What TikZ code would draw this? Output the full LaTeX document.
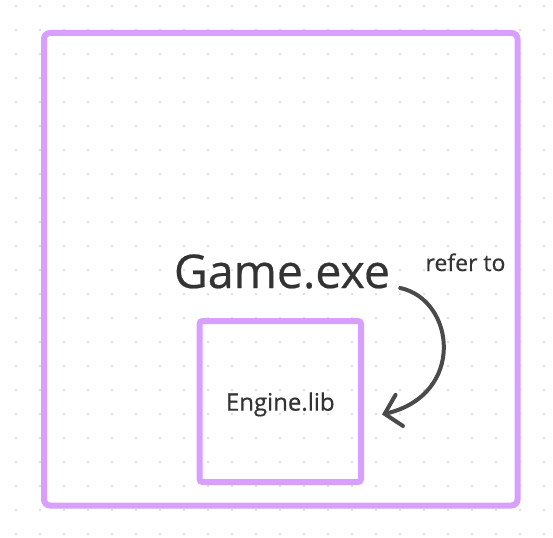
\documentclass[tikz,border=0pt]{standalone}
\usepackage{fontspec}
\setmainfont{Open Sans}[FakeBold=0.5]
\usetikzlibrary{arrows.meta}
\definecolor{frame}{HTML}{D89FFE}
\definecolor{ink}{HTML}{333333}
\definecolor{pen}{HTML}{4A4A4A}
\definecolor{dot}{HTML}{DCDCDC}
\begin{document}
\begin{tikzpicture}[x=1pt,y=-1pt,
  box/.style={rectangle,draw=frame,line width=6pt,text=ink,inner sep=0pt},
  lbl/.style={text=ink,inner sep=0pt,anchor=base}]
\useasboundingbox[fill=white] (0,0) rectangle (553,537);
% grid of dots
\foreach \x in {16,40,...,544}
  \foreach \y in {6,30,...,534}
    \fill[dot] (\x,\y) circle (1.3);
\node[box,rounded corners=6pt,minimum width=473.5pt,minimum height=472.5pt] (exe) at (280.75,269.25) {};
\node[box,rounded corners=3pt,minimum width=161.5pt,minimum height=161pt,font=\fontsize{24}{28}\selectfont,text depth=0pt] (lib) at (280.25,401.5) {Engine.lib};
\node[lbl,font=\fontsize{46.5}{54}\selectfont] (game) at (282,288) {Game.exe};
\node[lbl,font=\fontsize{23}{26}\selectfont] (refer) at (465.5,271) {refer to};
\draw[pen,line width=4pt,line cap=round,-{Straight Barb[length=15pt,width=32pt,line cap=round]}]
  ([xshift=10pt]game.base east) .. controls +(55,12) and +(84,-20) .. ([xshift=18pt,yshift=-13pt]lib.east);
\end{tikzpicture}
\end{document}
